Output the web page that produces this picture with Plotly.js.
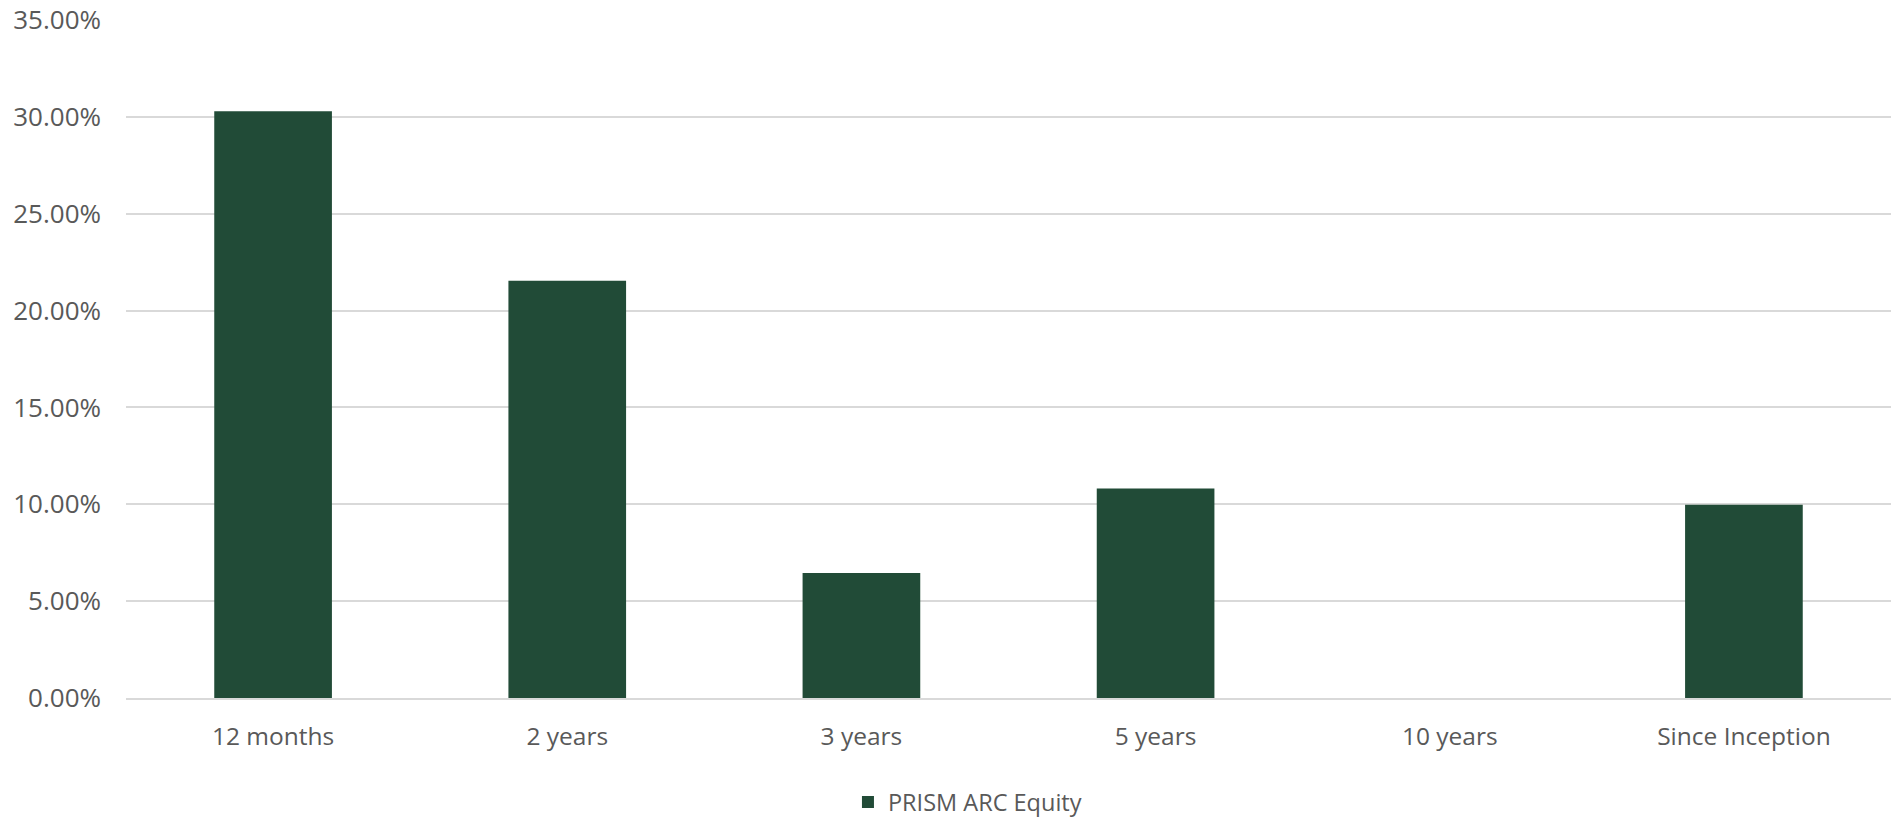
<!DOCTYPE html>
<html>
<head>
<meta charset="utf-8">
<script src="https://cdn.plot.ly/plotly-3.0.1.min.js"></script>
<style>html,body{margin:0;padding:0;background:#fff;}#chart{width:1897px;height:817px;}</style>
</head>
<body>
<div id="chart"></div>
<script>
const categories = ["12 months", "2 years", "3 years", "5 years", "10 years", "Since Inception"];
const seriesName = "PRISM ARC Equity";
const returnsPct = [30.29, 21.54, 6.45, 10.82, null, 9.98];
const yTickVals = [0, 5, 10, 15, 20, 25, 30, 35];
const yTickText = ["0.00%", "5.00%", "10.00%", "15.00%", "20.00%", "25.00%", "30.00%", "35.00%"];

const fontFam = "'Open Sans', 'Noto Sans', sans-serif";
const textColor = "#595959";

const data = [{
  type: "bar",
  name: seriesName,
  x: categories,
  y: returnsPct,
  marker: {color: "#214b37", line: {width: 0}},
  showlegend: true,
  hoverinfo: "x+y"
}];

const layout = {
  width: 1897,
  height: 817,
  paper_bgcolor: "#ffffff",
  plot_bgcolor: "#ffffff",
  margin: {l: 126, r: 6, t: 20, b: 119, pad: 0, autoexpand: false},
  bargap: 0.6,
  font: {family: fontFam, size: 25, color: textColor},
  xaxis: {
    type: "category",
    showgrid: false,
    zeroline: false,
    showline: true,
    linecolor: "#d9d9d9",
    linewidth: 2,
    ticks: "",
    ticklabelstandoff: 16,
    automargin: false,
    tickfont: {family: fontFam, size: 24.5, color: textColor}
  },
  yaxis: {
    range: [0, 35],
    tickvals: yTickVals,
    ticktext: yTickText,
    showgrid: true,
    gridcolor: "#d9d9d9",
    gridwidth: 2,
    zeroline: false,
    showline: false,
    ticks: "",
    ticklabelstandoff: 24,
    automargin: false,
    tickfont: {family: fontFam, size: 26, color: textColor}
  },
  legend: {
    orientation: "h",
    xref: "container",
    yref: "container",
    x: 0.447,
    xanchor: "left",
    y: 0.018,
    yanchor: "middle",
    font: {family: fontFam, size: 23.5, color: textColor},
    itemwidth: 30
  }
};

Plotly.newPlot("chart", data, layout, {displayModeBar: false, staticPlot: true});
</script>
</body>
</html>
